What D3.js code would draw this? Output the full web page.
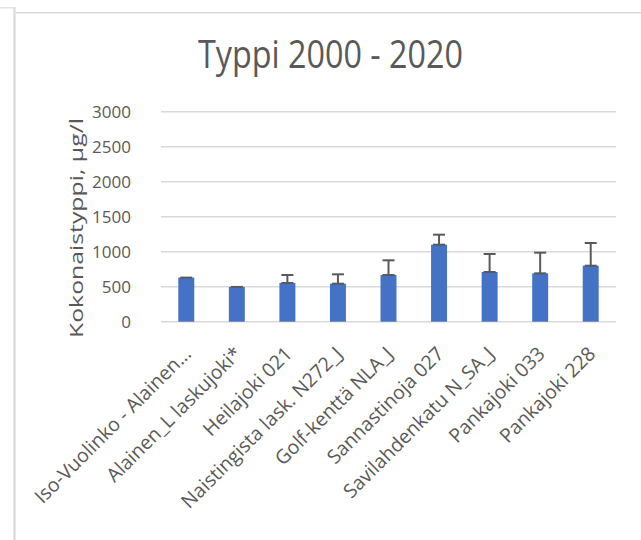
<!DOCTYPE html>
<html>
<head>
<meta charset="utf-8">
<script src="https://cdn.jsdelivr.net/npm/d3@7"></script>
<style>
  body { margin: 0; background: #fff; }
  text { font-family: "Open Sans", "Liberation Sans", sans-serif; fill: #595959; }
</style>
</head>
<body>
<svg id="chart"></svg>
<script>
var sites = ["Iso-Vuolinko - Alainen...", "Alainen_L laskujoki*", "Heilajoki 021",
             "Naistingista lask. N272_J", "Golf-kenttä NLA_J", "Sannastinoja 027",
             "Savilahdenkatu N_SA_J", "Pankajoki 033", "Pankajoki 228"]
var meanN = [630, 497, 553, 543, 667, 1100, 710, 691, 800]
var errN = [0, 0, 114, 134, 210, 143, 257, 295, 324]
var yTicks = [0, 500, 1000, 1500, 2000, 2500, 3000]

var dimensions = {
    width: 641,
    height: 540,
    margin: { top: 111.7, bottom: 218.3, left: 161, right: 25 }
}

var svg = d3.select("#chart")
            .attr("width", dimensions.width)
            .attr("height", dimensions.height)

// chart frame
svg.append("line").attr("x1", 0).attr("x2", 14).attr("y1", 7.8).attr("y2", 7.8)
    .attr("stroke", "#e0e0e0").attr("stroke-width", 1.3)
svg.append("line").attr("x1", 14.5).attr("x2", 14.5).attr("y1", 7.2).attr("y2", 540)
    .attr("stroke", "#d9d9d9").attr("stroke-width", 2.2)
svg.append("line").attr("x1", 15.5).attr("x2", 641).attr("y1", 12.7).attr("y2", 12.7)
    .attr("stroke", "#d9d9d9").attr("stroke-width", 1.4)

var xScale = d3.scaleBand()
                .domain(sites)
                .range([dimensions.margin.left, dimensions.width - dimensions.margin.right])
                .paddingInner(0.684)
                .paddingOuter(0.342)

var yScale = d3.scaleLinear()
                .domain([0, 3000])
                .range([dimensions.height - dimensions.margin.bottom, dimensions.margin.top])

// gridlines
svg.append("g")
    .selectAll("line")
    .data(yTicks)
    .join("line")
    .attr("x1", dimensions.margin.left)
    .attr("x2", dimensions.width - dimensions.margin.right)
    .attr("y1", d => yScale(d))
    .attr("y2", d => yScale(d))
    .attr("stroke", "#d9d9d9")
    .attr("stroke-width", 1.5)

// y axis labels
var yAxisGen = d3.axisLeft(yScale).tickValues(yTicks).tickFormat(d3.format("d"))
                .tickSize(0).tickPadding(0)
var yAxis = svg.append("g")
                .attr("transform", `translate(131,0)`)
                .call(yAxisGen)
yAxis.select(".domain").remove()
yAxis.selectAll("text")
    .style("font-size", "17px")
    .style("font-family", "'Open Sans', sans-serif")
    .attr("fill", "#595959")

// bars
svg.append("g")
    .selectAll("rect")
    .data(meanN)
    .join("rect")
    .attr("x", (d, i) => xScale(sites[i]))
    .attr("width", xScale.bandwidth())
    .attr("y", d => yScale(d))
    .attr("height", d => yScale(0) - yScale(d))
    .attr("fill", "#4472C4")

// error bars (plus direction)
var errG = svg.append("g").attr("stroke", "#595959").attr("stroke-width", 2)
meanN.forEach(function(d, i) {
    var cx = xScale(sites[i]) + xScale.bandwidth() / 2
    var top = yScale(d + errN[i])
    if (errN[i] > 0) {
        errG.append("line").attr("x1", cx).attr("x2", cx)
            .attr("y1", yScale(d)).attr("y2", top)
        errG.append("line").attr("x1", cx - 6).attr("x2", cx + 6)
            .attr("y1", top).attr("y2", top)
    }
    errG.append("line").attr("x1", cx - 6).attr("x2", cx + 6)
        .attr("y1", yScale(d)).attr("y2", yScale(d))
})

// x labels
svg.append("g")
    .selectAll("text")
    .data(sites)
    .join("text")
    .attr("transform", d => `translate(${xScale(d) + xScale.bandwidth() / 2 + 6}, 355) rotate(-45)`)
    .attr("text-anchor", "end")
    .style("font-size", "19.5px")
    .text(d => d)

// title
svg.append("text")
    .attr("x", 330.5)
    .attr("y", 68.3)
    .attr("text-anchor", "middle")
    .attr("textLength", 265)
    .attr("lengthAdjust", "spacingAndGlyphs")
    .style("font-size", "38px")
    .text("Typpi 2000 - 2020")

// y axis title
svg.append("text")
    .attr("transform", "translate(83, 228) rotate(-90)")
    .attr("text-anchor", "middle")
    .attr("textLength", 220)
    .attr("lengthAdjust", "spacingAndGlyphs")
    .style("font-size", "19px")
    .text("Kokonaistyppi, µg/l")
</script>
</body>
</html>
